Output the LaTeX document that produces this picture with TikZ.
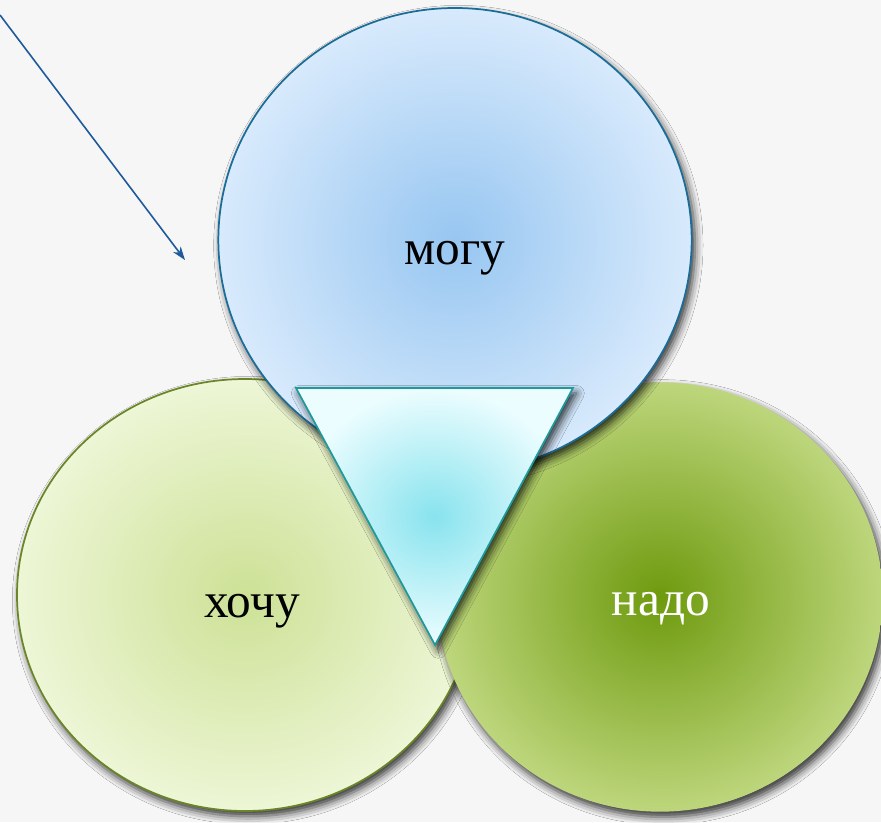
\documentclass[tikz,border=0pt]{standalone}
\usepackage{fontspec}
\setmainfont{Liberation Serif}
\usetikzlibrary{shapes.geometric,arrows.meta,shadows.blur}
\definecolor{bgc}{HTML}{F6F6F6}
\definecolor{blueIn}{HTML}{97C6F1}
\definecolor{blueOut}{HTML}{D8EAFC}
\definecolor{blueLine}{HTML}{1C6C98}
\definecolor{lgIn}{HTML}{CDE196}
\definecolor{lgOut}{HTML}{EDF6D6}
\definecolor{lgLine}{HTML}{6A8628}
\definecolor{dgIn}{HTML}{6E9A0E}
\definecolor{dgOut}{HTML}{BDD67C}
\definecolor{triIn}{HTML}{88E3EE}
\definecolor{triOut}{HTML}{ECFDFF}
\definecolor{triLine}{HTML}{1F9A9C}
\definecolor{arrowc}{HTML}{1F5A9A}
\tikzset{
  shad/.style={blur shadow={shadow xshift=2.5pt, shadow yshift=-4pt, shadow blur radius=6pt, shadow opacity=80}},
  blob/.style={ellipse, inner sep=0pt, shad},
  lbl/.style={font=\fontsize{37}{42}\selectfont, inner sep=0pt, anchor=base},
}
\begin{document}
\begin{tikzpicture}[x=0.75pt,y=-0.75pt]
\fill[bgc] (0,0) rectangle (881,822);
\useasboundingbox (0,0) rectangle (881,822);
% left light green
\node[blob, draw=lgLine, line width=1.3pt, inner color=lgIn, outer color=lgOut,
      minimum width=342pt, minimum height=324pt] (want) at (245,595) {};
% right dark green
\node[blob, inner color=dgIn, outer color=dgOut,
      minimum width=334pt, minimum height=322pt] (must) at (660,597) {};
% top blue
\node[blob, draw=blueLine, line width=1.3pt, inner color=blueIn, outer color=blueOut,
      minimum width=355pt, minimum height=348pt] (can) at (455,240) {};
% triangle
\coordinate (tl) at (296,388);
\coordinate (tr) at (573,388);
\coordinate (tb) at (435,645);
\path[draw=triLine, line width=1.3pt, line join=miter, inner color=triIn, outer color=triOut, shad]
      (tl) -- (tr) -- (tb) -- cycle;
% labels
\node[lbl] (tcan) at (455,264) {могу};
\node[lbl] (twant) at (252,617) {хочу};
\node[lbl, text=white] (tmust) at (661,615) {надо};
% arrow
\coordinate (as) at (0,15);
\coordinate (ae) at (185,260);
\draw[arrowc, line width=1.2pt, -{Stealth[length=10pt,width=7pt,inset=3pt]}] (as) -- (ae);
\end{tikzpicture}
\end{document}
